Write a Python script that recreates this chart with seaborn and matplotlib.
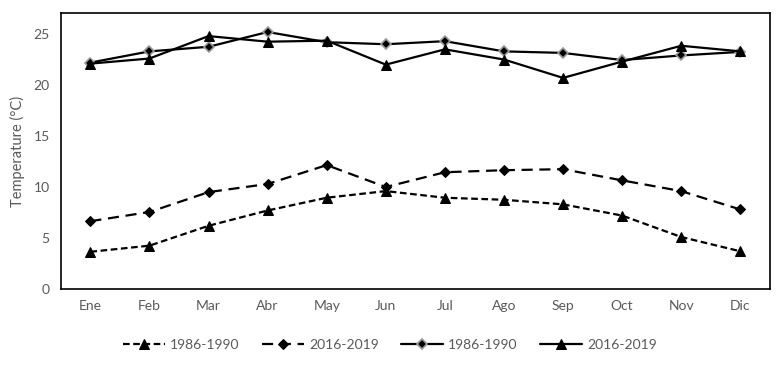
import matplotlib
matplotlib.use("Agg")
import matplotlib.pyplot as plt
import seaborn as sns
import pandas as pd

months = ["Ene", "Feb", "Mar", "Abr", "May", "Jun", "Jul", "Ago", "Sep", "Oct", "Nov", "Dic"]
min_1986 = [3.65, 4.25, 6.2, 7.7, 8.95, 9.6, 8.95, 8.75, 8.3, 7.2, 5.1, 3.7]
min_2016 = [6.65, 7.55, 9.5, 10.3, 12.15, 10.0, 11.45, 11.65, 11.75, 10.65, 9.6, 7.8]
max_1986 = [22.2, 23.3, 23.75, 25.2, 24.2, 24.0, 24.3, 23.3, 23.15, 22.45, 22.9, 23.25]
max_2016 = [22.1, 22.6, 24.8, 24.25, 24.35, 22.0, 23.5, 22.5, 20.7, 22.3, 23.85, 23.3]
labels = ["1986-1990", "2016-2019", "1986-1990", "2016-2019"]

sns.set_theme(style="white")
plt.rcParams["font.family"] = ["Lato", "DejaVu Sans"]

fig = plt.figure(figsize=(7.8, 3.67), dpi=100)
ax = fig.add_axes([0.078, 0.2125, 0.909, 0.752])

grey = "#595959"
styles = [
    dict(linestyle=(0, (3, 1.6)), marker="^", markersize=7, color="black", mfc="black", mec="black"),
    dict(linestyle=(0, (5, 3)), marker="D", markersize=5.5, color="black", mfc="black", mec="black"),
    dict(linestyle="-", marker="D", markersize=5, color="black", mfc="black", mec="#9a9a9a", markeredgewidth=1.2),
    dict(linestyle="-", marker="^", markersize=7, color="black", mfc="black", mec="black"),
]
series = [min_1986, min_2016, max_1986, max_2016]
for vals, lab, st in zip(series, labels, styles):
    df = pd.DataFrame({"Mes": months, "T": vals})
    sns.lineplot(data=df, x="Mes", y="T", ax=ax, sort=False, label=lab,
                 linewidth=1.6, **st)

ax.set_xlim(-0.5, len(months) - 0.5)
ax.set_ylim(0, 27.06)
ax.set_yticks([0, 5, 10, 15, 20, 25])
ax.set_xlabel("")
ax.set_ylabel("Temperature (°C)", color=grey, fontsize=10.5, labelpad=6)
ax.tick_params(axis="both", colors=grey, labelsize=10, length=0, pad=8)
for s in ax.spines.values():
    s.set_visible(True)
    s.set_color("black")
    s.set_linewidth(1.2)

ax.legend_.remove()
handles, labs = ax.get_legend_handles_labels()
leg = fig.legend(handles, labs, loc="center", bbox_to_anchor=(0.5, 0.06), ncol=4,
                 frameon=False, fontsize=10, handlelength=3.0, columnspacing=1.6,
                 handletextpad=0.4)
for t in leg.get_texts():
    t.set_color(grey)

fig.savefig("out.png", dpi=100)
